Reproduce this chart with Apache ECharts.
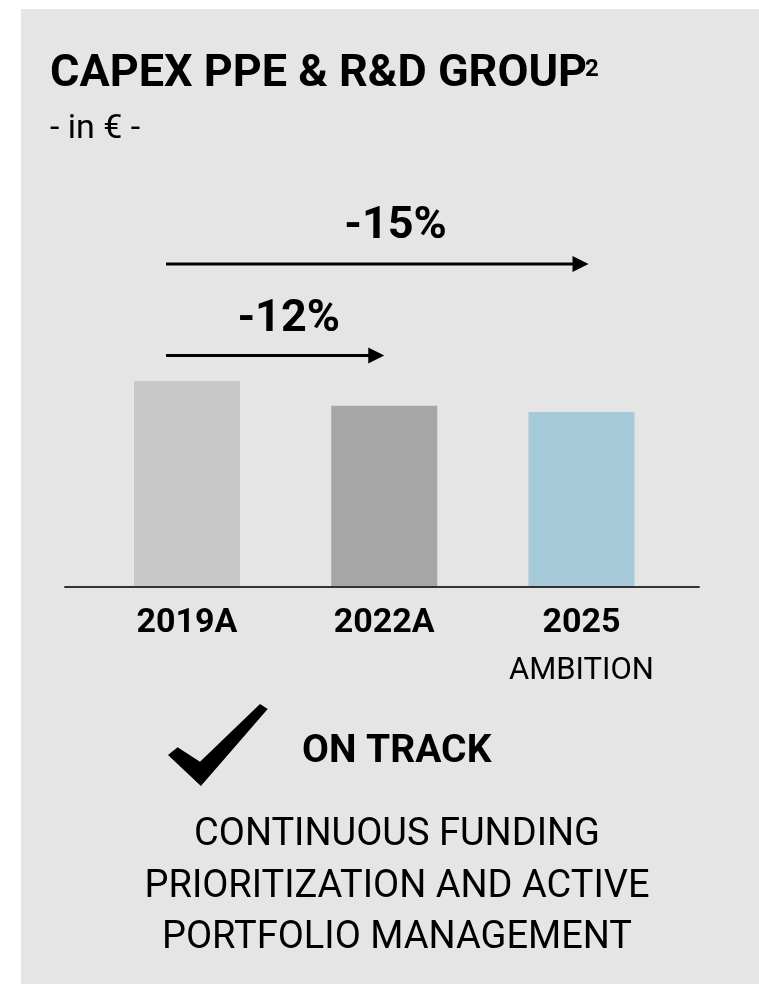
<!DOCTYPE html>
<html>
<head>
<meta charset="utf-8">
<script src="https://cdn.jsdelivr.net/npm/echarts@6/dist/echarts.min.js"></script>
<style>
  html, body { margin: 0; padding: 0; background: #ffffff; }
  #chart { width: 759px; height: 984px; }
</style>
</head>
<body>
<div id="chart"></div>
<script>
// Capex PPE & R&D, indexed to 2019A = 100
const categories = ['2019A', '2022A', '2025'];
const categorySubLabels = ['', '', 'AMBITION'];
const capexIndex = [100, 88, 85];
const barColors = ['#c8c8c8', '#a6a6a6', '#a6cad9'];
const changeLabels = ['-12%', '-15%'];           // 2019A -> 2022A, 2019A -> 2025
const changeTargets = ['2022A', '2025'];
const titleText = 'CAPEX PPE & R&D GROUP';
const titleNote = '2';
const unitText = '- in \u20ac -';
const statusText = 'ON TRACK';
const noteLines = ['CONTINUOUS FUNDING', 'PRIORITIZATION AND ACTIVE', 'PORTFOLIO MANAGEMENT'];

const FONT = 'Roboto, "Noto Sans", sans-serif';
const chart = echarts.init(document.getElementById('chart'), null, { renderer: 'canvas' });

const gridTop = 381, gridBottom = 397;

chart.setOption({
  backgroundColor: '#ffffff',
  animation: false,
  grid: [
    { left: 88.4, right: 78.9, top: gridTop, bottom: gridBottom },
    { left: 65, right: 60, top: gridTop, bottom: gridBottom }
  ],
  xAxis: [
    {
      type: 'category', gridIndex: 0, data: categories,
      axisLine: { show: false }, axisTick: { show: false },
      axisLabel: {
        margin: 12,
        interval: 0,
        formatter: (v, i) => categorySubLabels[i] ? '{y|' + v + '}\n{s|' + categorySubLabels[i] + '}' : '{y|' + v + '}',
        rich: {
          y: { fontFamily: FONT, fontWeight: 'bold', fontSize: 34, lineHeight: 48, color: '#000' },
          s: { fontFamily: FONT, fontSize: 31, lineHeight: 48, color: '#000' }
        }
      }
    },
    {
      type: 'category', gridIndex: 1, data: [''], z: 5,
      axisLine: { show: true, lineStyle: { color: '#333333', width: 2 } },
      axisTick: { show: false }, axisLabel: { show: false }
    }
  ],
  yAxis: [
    { type: 'value', gridIndex: 0, min: 0, max: 100, show: false, splitLine: { show: false } },
    { type: 'value', gridIndex: 1, min: 0, max: 100, show: false, splitLine: { show: false } }
  ],
  series: [{
    type: 'bar',
    xAxisIndex: 0, yAxisIndex: 0,
    barWidth: 106,
    data: capexIndex.map((v, i) => ({ value: v, itemStyle: { color: barColors[i] } }))
  }]
});

// Change arrows start just left of the first bar's centre and point at the target bars
const x0 = chart.convertToPixel({ xAxisIndex: 0 }, categories[0]);
const arrowDefs = [
  { label: changeLabels[0], target: changeTargets[0], y: 355.5, tipShift: 0, labelX: 288.7, labelY: 320 },
  { label: changeLabels[1], target: changeTargets[1], y: 264, tipShift: 7, labelX: 395.5, labelY: 227 }
];

const graphics = [
  { type: 'rect', z: -10, silent: true, shape: { x: 21, y: 9, width: 738, height: 975 }, style: { fill: '#e5e5e5' } },
  { type: 'text', x: 50, y: 75, style: { text: titleText, font: 'bold 45px ' + FONT, fill: '#000', verticalAlign: 'middle' } },
  { type: 'text', x: 585, y: 70, style: { text: titleNote, font: 'bold 24px ' + FONT, fill: '#000', verticalAlign: 'middle' } },
  { type: 'text', x: 50, y: 129, style: { text: unitText, font: '34px ' + FONT, fill: '#000', verticalAlign: 'middle' } },
  { type: 'text', x: 302, y: 752, style: { text: statusText, font: 'bold 39px ' + FONT, fill: '#000', verticalAlign: 'middle' } },
  {
    type: 'text', x: 397, y: 887,
    style: { text: noteLines.join('\n'), font: '38px ' + FONT, lineHeight: 51.5, fill: '#000', align: 'center', verticalAlign: 'middle' }
  },
  {
    type: 'polygon',
    shape: { points: [[168, 755], [177.6, 747.3], [200, 761.7], [260, 704], [267.7, 709], [200.9, 786]] },
    style: { fill: '#000' }
  }
];

arrowDefs.forEach(a => {
  const xs = x0 - 21;
  const xt = chart.convertToPixel({ xAxisIndex: 0 }, a.target) + a.tipShift;
  graphics.push({ type: 'line', shape: { x1: xs, y1: a.y, x2: xt - 12, y2: a.y }, style: { stroke: '#000', lineWidth: 3 } });
  graphics.push({ type: 'polygon', shape: { points: [[xt - 16, a.y - 8], [xt, a.y], [xt - 16, a.y + 8]] }, style: { fill: '#000' } });
  graphics.push({ type: 'text', x: a.labelX, y: a.labelY, style: { text: a.label, font: 'bold 45px ' + FONT, fill: '#000', align: 'center', verticalAlign: 'middle' } });
});

chart.setOption({ graphic: graphics });
</script>
</body>
</html>
